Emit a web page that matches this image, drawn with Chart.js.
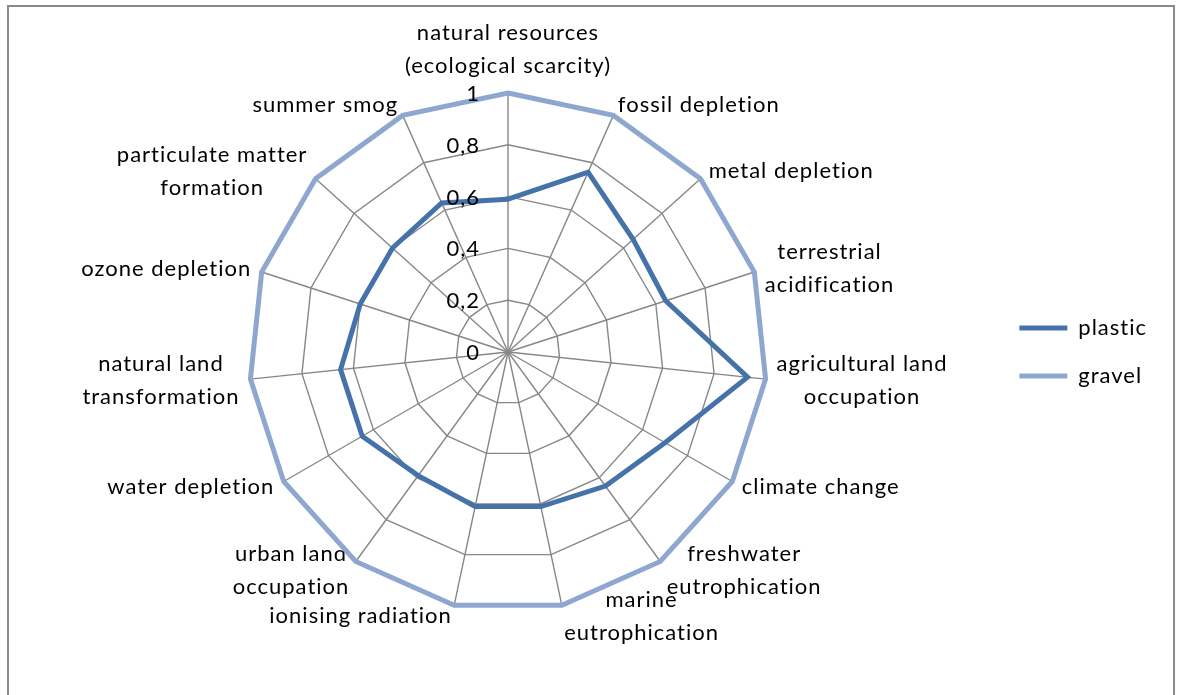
<!DOCTYPE html>
<html>
<head>
<meta charset="utf-8">
<script src="https://cdn.jsdelivr.net/npm/chart.js@4.4.1/dist/chart.umd.min.js"></script>
<style>
  html, body { margin: 0; padding: 0; background: #fff; }
  #wrap { position: relative; width: 1177px; height: 695px; overflow: hidden; background: #fff; }
  #frame { position: absolute; left: 7px; top: 5px; width: 1168px; height: 730px; border: 2px solid #8a8a8a; box-sizing: border-box; }
  #c { position: absolute; left: 0; top: 0; }
</style>
</head>
<body>
<div id="wrap">
  <div id="frame"></div>
  <canvas id="c" width="1177" height="695"></canvas>
</div>
<script>
// ---- data ----
const categories = [
  ['natural resources', '(ecological scarcity)'],
  'fossil depletion',
  'metal depletion',
  ['terrestrial', 'acidification'],
  ['agricultural land', 'occupation'],
  'climate change',
  ['freshwater', 'eutrophication'],
  ['marine', 'eutrophication'],
  'ionising radiation',
  ['urban land', 'occupation'],
  'water depletion',
  ['natural land', 'transformation'],
  'ozone depletion',
  ['particulate matter', 'formation'],
  'summer smog'
];
const plasticValues = [0.59, 0.76, 0.65, 0.64, 0.93, 0.70, 0.64, 0.61, 0.61, 0.59, 0.65, 0.65, 0.60, 0.60, 0.63];
const gravelValues  = [1, 1, 1, 1, 1, 1, 1, 1, 1, 1, 1, 1, 1, 1, 1];
const tickLabels = ['0', '0,2', '0,4', '0,6', '0,8', '1'];
const seriesNames = ['plastic', 'gravel'];

// ---- styling / layout ----
const FONT = 'Lato';
const FONT_SIZE = 22;
const LETTER_SPACING = '1px';
const PLASTIC_COLOR = '#4572A8';
const GRAVEL_COLOR = '#8EA7CF';
const GRID_COLOR = '#878787';
const CX = 508, CY = 352, RADIUS = 259, LABEL_GAP = 11, TICK_OFFSET = 28;

function placeScale(scale) {
  scale.xCenter = CX;
  scale.yCenter = CY;
  scale.drawingArea = RADIUS;
  const items = scale._pointLabelItems || [];
  items.forEach((it, i) => {
    const w = it.right - it.left, h = it.bottom - it.top;
    const p = scale.getPointPosition(i, scale.drawingArea + LABEL_GAP);
    const a = scale.getIndexAngle(i);
    const s = Math.sin(a), c = Math.cos(a);
    let left, top;
    if (Math.abs(s) < 1e-3) {
      left = p.x - w / 2;
      top = c > 0 ? p.y - h : p.y;
    } else {
      left = s > 0 ? p.x : p.x - w;
      top = p.y - h / 2;
    }
    it.left = left; it.right = left + w; it.top = top; it.bottom = top + h;
    it.x = left + w / 2; it.y = top; it.textAlign = 'center';
  });
}

const spacingPlugin = {
  id: 'spacing',
  beforeUpdate(chart) { chart.ctx.letterSpacing = LETTER_SPACING; },
  beforeDraw(chart) { chart.ctx.letterSpacing = LETTER_SPACING; }
};

const tickTextPlugin = {
  id: 'tickText',
  afterDatasetsDraw(chart) {
    const s = chart.scales.r, ctx = chart.ctx;
    ctx.save();
    ctx.font = FONT_SIZE + 'px ' + FONT;
    ctx.fillStyle = '#000';
    ctx.textAlign = 'right';
    ctx.textBaseline = 'middle';
    s.ticks.forEach((t) => {
      const d = s.getDistanceFromCenterForValue(t.value);
      ctx.fillText(t.label, s.xCenter - TICK_OFFSET, s.yCenter - d + 1);
    });
    ctx.restore();
  }
};

function build() {
  new Chart(document.getElementById('c'), {
    type: 'radar',
    data: {
      labels: categories,
      datasets: [
        { label: seriesNames[0], data: plasticValues, borderColor: PLASTIC_COLOR, backgroundColor: 'rgba(0,0,0,0)',
          borderWidth: 5, pointRadius: 0, pointHoverRadius: 0, fill: false, borderCapStyle: 'round' },
        { label: seriesNames[1], data: gravelValues, borderColor: GRAVEL_COLOR, backgroundColor: 'rgba(0,0,0,0)',
          borderWidth: 5, pointRadius: 0, pointHoverRadius: 0, fill: false, borderCapStyle: 'round' }
      ]
    },
    options: {
      responsive: false,
      animation: false,
      layout: { padding: { top: 9, right: 20, bottom: 0, left: 0 } },
      plugins: {
        tooltip: { enabled: false },
        legend: {
          position: 'right',
          labels: {
            usePointStyle: true, pointStyle: 'line', pointStyleWidth: 48,
            padding: 26, color: '#000',
            font: { family: FONT, size: FONT_SIZE }
          }
        }
      },
      scales: {
        r: {
          min: 0, max: 1,
          ticks: { stepSize: 0.2, display: false, callback: (v, i) => tickLabels[i] },
          grid: { color: GRID_COLOR, lineWidth: 1.4, circular: false },
          angleLines: { color: GRID_COLOR, lineWidth: 1.4 },
          pointLabels: { color: '#000', padding: 0, font: { family: FONT, size: FONT_SIZE, lineHeight: '33px' } },
          afterFit: placeScale
        }
      }
    },
    plugins: [spacingPlugin, tickTextPlugin]
  });
}

if (document.fonts && document.fonts.load) {
  document.fonts.load(FONT_SIZE + 'px ' + FONT).then(build, build);
} else { build(); }
</script>
</body>
</html>
